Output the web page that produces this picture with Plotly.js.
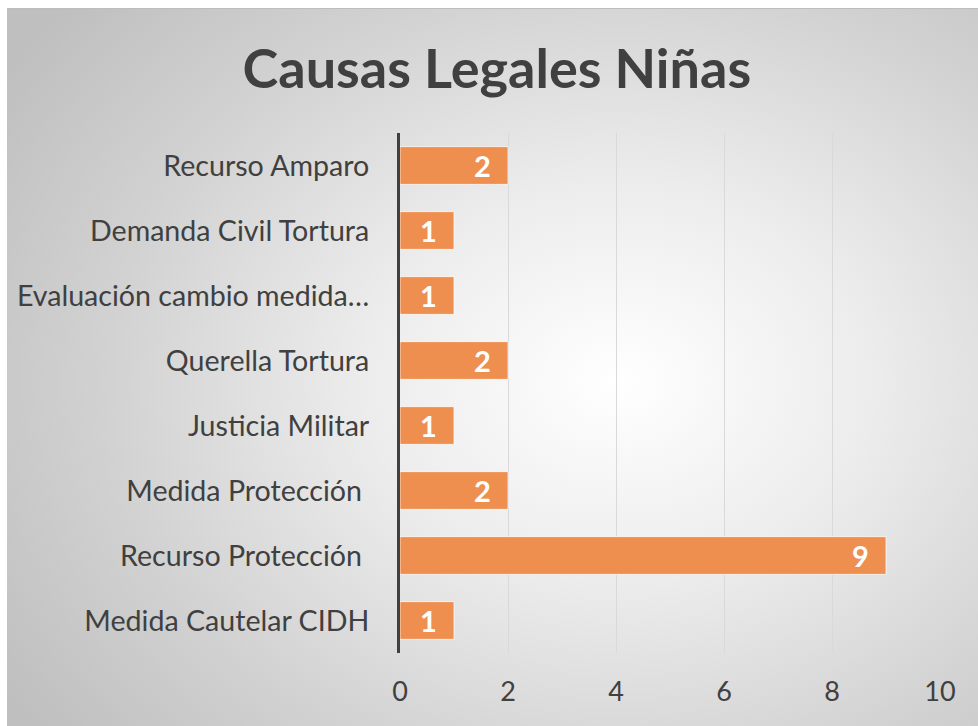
<!DOCTYPE html>
<html>
<head>
<meta charset="utf-8">
<script src="https://cdn.plot.ly/plotly-3.0.1.min.js"></script>
<style>
  html, body { margin: 0; padding: 0; background: #ffffff; }
  #bg { position: absolute; left: 7px; top: 8px; width: 971px; height: 718px;
        background: radial-gradient(ellipse 75% 80% at 63% 52%, #ffffff 0%, #ececec 35%, #d2d2d2 70%, #bfbfbf 100%);
        border-top: 1px solid #bdbdbd; box-sizing: border-box; }
  #chart { position: absolute; left: 0; top: 0; width: 978px; height: 726px; }
</style>
</head>
<body>
<div id="bg"></div>
<div id="chart"></div>
<script>
const categories = [
  "Medida Cautelar CIDH",
  "Recurso Protección ",
  "Medida Protección ",
  "Justicia Militar",
  "Querella Tortura",
  "Evaluación cambio medida…",
  "Demanda Civil Tortura",
  "Recurso Amparo"
];
const values = [1, 9, 2, 1, 2, 1, 1, 2];
const xTicks = [0, 2, 4, 6, 8, 10];

const trace = {
  type: 'bar',
  orientation: 'h',
  y: categories,
  x: values,
  text: values.map(v => String(v) + '\u00a0\u00a0'),
  textposition: 'inside',
  insidetextanchor: 'end',
  textangle: 0,
  constraintext: 'none',
  textfont: { family: 'Lato, sans-serif', size: 29, color: '#ffffff', weight: 'bold' },
  marker: { color: '#EE8F4F', line: { color: 'rgba(255,255,255,0.7)', width: 1 } },
  hoverinfo: 'none'
};

const layout = {
  width: 978, height: 726,
  paper_bgcolor: 'rgba(0,0,0,0)',
  plot_bgcolor: 'rgba(0,0,0,0)',
  margin: { l: 400, r: 38, t: 133, b: 73 },
  bargap: 0.42,
  showlegend: false,
  title: {
    text: '<b>Causas Legales Niñas</b>',
    font: { family: 'Lato, sans-serif', size: 54, color: '#404040' },
    x: 0.508, xanchor: 'center', y: 0.905, yanchor: 'middle'
  },
  xaxis: {
    range: [0, 10],
    tickvals: xTicks,
    ticktext: xTicks.map(String),
    showgrid: true, gridcolor: '#d9d9d9', gridwidth: 1,
    zeroline: false, showline: false, ticks: '',
    tickfont: { family: 'Lato, sans-serif', size: 27, color: '#404040' },
    ticklabelstandoff: 20,
    fixedrange: true
  },
  yaxis: {
    type: 'category',
    categoryorder: 'array', categoryarray: categories,
    showgrid: false, zeroline: false,
    showline: true, linecolor: '#404040', linewidth: 3,
    ticks: '',
    tickfont: { family: 'Lato, sans-serif', size: 28.6, color: '#404040' },
    ticklabelstandoff: 22,
    fixedrange: true
  }
};

Plotly.newPlot('chart', [trace], layout, { displayModeBar: false, staticPlot: true });
</script>
</body>
</html>
